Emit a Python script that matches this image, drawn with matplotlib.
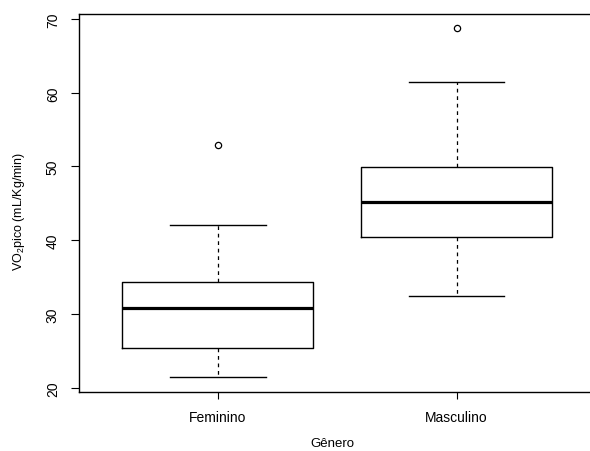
import matplotlib
matplotlib.use("Agg")
import matplotlib.pyplot as plt

plt.rcParams['font.family'] = ['Liberation Sans', 'DejaVu Sans']
plt.rcParams['mathtext.default'] = 'regular'

# values
groups = ['Feminino', 'Masculino']
whisker_low = [21.5, 32.5]
q1 = [25.4, 40.5]
median = [30.8, 45.2]
q3 = [34.4, 49.9]
whisker_high = [42.1, 61.4]
outliers = [[52.9], [68.8]]

stats = []
for i, g in enumerate(groups):
    stats.append({'label': g, 'whislo': whisker_low[i], 'q1': q1[i], 'med': median[i],
                  'q3': q3[i], 'whishi': whisker_high[i], 'fliers': outliers[i]})

fig = plt.figure(figsize=(5.9, 4.52), dpi=100)
W, H = 590, 452
left, right, top, bottom = 79, 595.6, 14.7, 392.7
ax = fig.add_axes([left / W, (H - bottom) / H, (right - left) / W, (bottom - top) / H])

ax.bxp(stats, positions=[1, 2], widths=0.8, showfliers=True,
       boxprops=dict(color='black', linewidth=1.0),
       medianprops=dict(color='black', linewidth=2.3),
       whiskerprops=dict(color='black', linewidth=0.9, linestyle=(0, (3, 3))),
       capprops=dict(color='black', linewidth=1.0),
       flierprops=dict(marker='o', markerfacecolor='none', markeredgecolor='black',
                       markersize=4.5, markeredgewidth=0.9))

ax.set_xlim(0.418, 2.582)
ax.set_ylim(19.46, 70.72)
ax.set_yticks([20, 30, 40, 50, 60, 70])
ax.set_yticklabels(['20', '30', '40', '50', '60', '70'], rotation=90, va='center')
ax.set_xticks([1, 2])
ax.set_xticklabels(groups)

ax.tick_params(axis='y', length=5.8, width=0.8, pad=8, labelsize=10)
ax.tick_params(axis='x', length=5, width=0.8, pad=8, labelsize=10)
for s in ax.spines.values():
    s.set_linewidth(1.0)
# the reference is cropped before the right edge of the plot box
ax.spines['right'].set_visible(False)

ax.set_xlabel('Gênero', fontsize=9.5, va='center')
ax.xaxis.set_label_coords(0.49, -0.137)
ax.set_ylabel('VO$_2$pico (mL/Kg/min)', fontsize=9, va='center')
ax.yaxis.set_label_coords(-0.116, 0.479)

fig.savefig('out.png', dpi=100)
